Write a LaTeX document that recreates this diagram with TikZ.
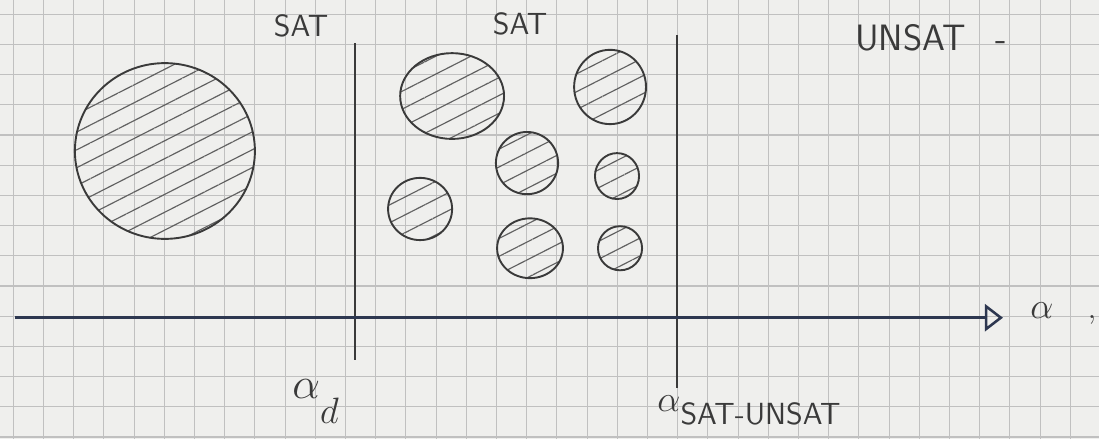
\documentclass[tikz,border=0pt]{standalone}
\usetikzlibrary{arrows.meta,patterns.meta,shapes.geometric}
\definecolor{paper}{RGB}{239,239,237}
\definecolor{gridgrey}{RGB}{192,192,192}
\definecolor{ink}{RGB}{58,58,58}
\definecolor{axisblue}{RGB}{45,55,80}
\begin{document}
\begin{tikzpicture}[
  x=0.5cm, y=0.5cm,
  gridline/.style={gridgrey, line width=0.5pt},
  blob/.style={draw=ink, line width=0.9pt, ellipse, inner sep=0pt,
    pattern={Lines[angle=27, distance=7.5pt, line width=0.55pt]}, pattern color=ink!80},
  lbl/.style={text=ink, font=\sffamily\Large},
  phase/.style={draw=ink, line width=0.9pt}
]
\useasboundingbox (0,0) rectangle (36.39,14.54);
\fill[paper] (0,0) rectangle (36.39,14.54);

% squared paper
\foreach \i in {0,...,35}
  \draw[gridline] (\i+0.44,0) -- (\i+0.44,14.54);
\foreach \j in {0,...,14}
  \draw[gridline] (0,\j+0.07) -- (36.39,\j+0.07);

% one big cluster
\node[blob, minimum width=2.98cm, minimum height=2.91cm] (big) at (5.46,9.54) {};

% many small clusters
\node[blob, minimum width=1.72cm, minimum height=1.42cm] (ca) at (14.97,11.36) {};
\node[blob, minimum width=1.19cm, minimum height=1.23cm] (cb) at (20.20,11.66) {};
\node[blob, minimum width=1.03cm, minimum height=1.03cm] (cc) at (17.45,9.14) {};
\node[blob, minimum width=0.73cm, minimum height=0.76cm] (cd) at (20.43,8.71) {};
\node[blob, minimum width=1.06cm, minimum height=1.03cm] (ce) at (13.91,7.62) {};
\node[blob, minimum width=1.09cm, minimum height=0.99cm] (cf) at (17.55,6.32) {};
\node[blob, minimum width=0.73cm, minimum height=0.73cm] (cg) at (20.53,6.32) {};

% phase borders
\coordinate (dtop) at (11.75,13.11);
\coordinate (dbot) at (11.75,2.62);
\coordinate (stop) at (22.42,13.38);
\coordinate (sbot) at (22.42,1.69);
\draw[phase] (dtop) -- (dbot);
\draw[phase] (stop) -- (sbot);

% axis
\coordinate (ax0) at (0.5,4.02);
\coordinate (ax1) at (33.21,4.02);
\draw[axisblue, line width=1.2pt, -{Triangle[open, length=3mm, width=4.5mm]}] (ax0) -- (ax1);
\node[text=ink, font=\LARGE] (alpha) at (34.5,4.27) {$\alpha$};
\node[text=ink, font=\Large] (comma) at (36.16,3.95) {,};

% labels
\node[lbl] (sat1) at (9.97,13.68) {SAT};
\node[lbl] (sat2) at (17.22,13.74) {SAT};
\node[lbl, font=\sffamily\LARGE] (unsat) at (30.83,13.28) {UNSAT\hspace{0.8em}-};
\node[text=ink] (ad) at (10.45,1.25) {\huge$\alpha$\raisebox{-1.3ex}{\LARGE$d$}};
\node[text=ink, anchor=west] (asu) at (21.52,0.96)
  {\LARGE$\alpha$\raisebox{-0.8ex}{\sffamily\Large SAT-UNSAT}};
\end{tikzpicture}
\end{document}
